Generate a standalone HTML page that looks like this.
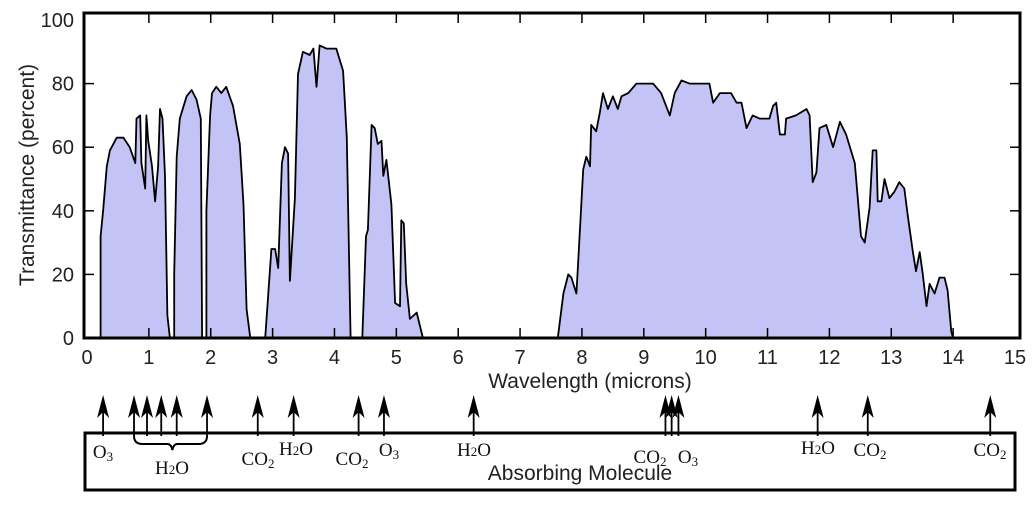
<!DOCTYPE html>
<html><head><meta charset="utf-8"><style>
body{margin:0;background:#fff;width:1032px;height:502px;overflow:hidden}
svg{font-family:"Liberation Sans",sans-serif}
.mol{font-family:"Liberation Serif",serif;font-size:19px}
</style></head><body>
<svg id="chart" width="1032" height="502" viewBox="0 0 1032 502" xmlns="http://www.w3.org/2000/svg"></svg>
<script>
const xTicks=[0,1,2,3,4,5,6,7,8,9,10,11,12,13,14,15];
const yTicks=[0,20,40,60,80,100];
const bands=[
 [[0.22,0],[0.22,32],[0.26,40],[0.32,54],[0.37,59],[0.48,63],[0.59,63],[0.69,60],[0.78,55],[0.80,69],[0.86,70],[0.88,55],[0.94,47],[0.96,70],[0.99,62],[1.05,54],[1.10,43],[1.15,54],[1.18,72],[1.22,69],[1.26,51],[1.30,7],[1.34,0]],
 [[1.41,0],[1.41,20],[1.45,57],[1.50,69],[1.61,76],[1.69,78],[1.77,75],[1.84,69],[1.86,0]],
 [[1.93,0],[1.93,40],[1.99,70],[2.02,77],[2.09,79],[2.17,77],[2.25,79],[2.36,73],[2.47,61],[2.53,42],[2.58,9],[2.64,0]],
 [[2.88,0],[2.98,28],[3.04,28],[3.09,22],[3.15,55],[3.20,60],[3.25,58],[3.28,18],[3.36,44],[3.41,83],[3.49,90],[3.60,89],[3.66,91],[3.71,79],[3.76,92],[3.87,91],[4.03,91],[4.14,84],[4.20,63],[4.26,0]],
 [[4.45,0],[4.51,32],[4.54,34],[4.60,67],[4.65,66],[4.70,61],[4.76,62],[4.79,51],[4.84,56],[4.92,42],[4.98,11],[5.06,10],[5.08,37],[5.12,36],[5.16,17],[5.22,6],[5.33,8],[5.43,0]],
 [[7.61,0],[7.70,14],[7.78,20],[7.83,19],[7.91,14],[7.94,24],[8.02,53],[8.07,57],[8.13,54],[8.15,67],[8.23,65],[8.29,71],[8.34,77],[8.42,72],[8.50,76],[8.58,72],[8.64,76],[8.75,77],[8.88,80],[9.04,80],[9.15,80],[9.28,77],[9.42,70],[9.50,77],[9.61,81],[9.74,80],[9.90,80],[10.06,80],[10.12,74],[10.23,77],[10.41,77],[10.50,74],[10.58,74],[10.66,66],[10.76,70],[10.87,69],[11.03,69],[11.09,73],[11.14,74],[11.20,64],[11.28,64],[11.30,69],[11.46,70],[11.63,72],[11.68,70],[11.73,49],[11.79,52],[11.84,66],[11.95,67],[12.06,60],[12.17,68],[12.27,64],[12.41,55],[12.51,32],[12.57,30],[12.65,41],[12.70,59],[12.76,59],[12.78,43],[12.84,43],[12.89,50],[12.97,44],[13.05,46],[13.13,49],[13.21,47],[13.27,38],[13.35,27],[13.40,21],[13.46,27],[13.51,20],[13.57,10],[13.62,17],[13.70,14],[13.78,19],[13.86,19],[13.91,15],[13.97,2],[14.00,0]]
];
const arrowX=[0.26,0.76,0.97,1.2,1.45,1.94,2.76,3.34,4.39,4.8,6.25,9.35,9.45,9.56,11.81,12.62,14.6];
const L=87,R=1015,T0=338,T100=20;
const sx=v=>L+(R-L)*v/15, sy=v=>T0-(T0-T100)*v/100;
const svg=document.getElementById('chart');const NS='http://www.w3.org/2000/svg';
function mk(tag,attrs,parent){const e=document.createElementNS(NS,tag);for(const k in attrs)e.setAttribute(k,attrs[k]);(parent||svg).appendChild(e);return e;}
bands.forEach((b,i)=>{
 const d=b.map((p,j)=>(j?'L':'M')+sx(p[0]).toFixed(1)+','+sy(p[1]).toFixed(1)).join('')+'Z';
 const p=mk('path',{d:d,fill:'#c3c3f5',stroke:'#000','stroke-width':1.8,'stroke-linejoin':'round'});
 
 
});
const fr=mk('rect',{x:84,y:13,width:936,height:325,fill:'none',stroke:'#000','stroke-width':3});

xTicks.forEach(v=>{
 const x=sx(v);
 if(v>0&&v<15){mk('line',{x1:x,x2:x,y1:338,y2:328,stroke:'#000','stroke-width':1.5});mk('line',{x1:x,x2:x,y1:13,y2:23,stroke:'#000','stroke-width':1.5});}
 const t=mk('text',{x:x,y:364,'text-anchor':'middle','font-size':20,fill:'#222'});t.textContent=v;
 
});
yTicks.forEach(v=>{
 const y=sy(v);
 if(v>0&&v<100){mk('line',{x1:84,x2:94,y1:y,y2:y,stroke:'#000','stroke-width':1.5});mk('line',{x1:1020,x2:1010,y1:y,y2:y,stroke:'#000','stroke-width':1.5});}
 const t=mk('text',{x:74,y:y+7,'text-anchor':'end','font-size':20,fill:'#222'});t.textContent=v;
 
});
const xt=mk('text',{x:590,y:388,'text-anchor':'middle','font-size':21,fill:'#222'});xt.textContent='Wavelength (microns)';

const yt=mk('text',{x:0,y:0,transform:'translate(34,175) rotate(-90)','text-anchor':'middle','font-size':21,fill:'#222'});yt.textContent='Transmittance (percent)';

const box=mk('rect',{x:85,y:433,width:930,height:57,fill:'none',stroke:'#000','stroke-width':3});

arrowX.forEach(v=>{
 const x=sx(v);
 const g=mk('g',{});
 
 mk('line',{x1:x,x2:x,y1:405,y2:436,stroke:'#000','stroke-width':1.8},g);
 mk('path',{d:`M${x},395 L${x+6},418 L${x},412 L${x-6},418Z`,fill:'#000'},g);
});
mk('path',{d:`M${sx(0.76)},436 Q${sx(0.76)},444 ${sx(0.9)},444 L${sx(1.3)},444 Q${sx(1.36)},444 ${sx(1.38)},450 Q${sx(1.4)},444 ${sx(1.46)},444 L${sx(1.8)},444 Q${sx(1.94)},444 ${sx(1.94)},436`,fill:'none',stroke:'#000','stroke-width':2});
const labels=[[103,458,'O','3'],[172,474,'H','2','O'],[258,465,'CO','2'],[296,455,'H','2','O'],[352,465,'CO','2'],[389,456,'O','3'],[474,456,'H','2','O'],[650,463,'CO','2'],[688,463,'O','3'],[818,454,'H','2','O'],[870,456,'CO','2'],[990,456,'CO','2']];
labels.forEach(l=>{
 const t=mk('text',{x:l[0],y:l[1],'text-anchor':'middle',class:'mol',fill:'#111'});
 
 const a=mk('tspan',{},t);a.textContent=l[2];
 const b=mk('tspan',{'font-size':13,dy:l[2]==='H'?0:3},t);b.textContent=l[3];
 if(l[4]){const c=mk('tspan',{dy:l[2]==='H'?0:-3},t);c.textContent=l[4];}
});
const am=mk('text',{x:580,y:480,'text-anchor':'middle','font-size':21,fill:'#222'});am.textContent='Absorbing Molecule';

</script>
</body></html>
